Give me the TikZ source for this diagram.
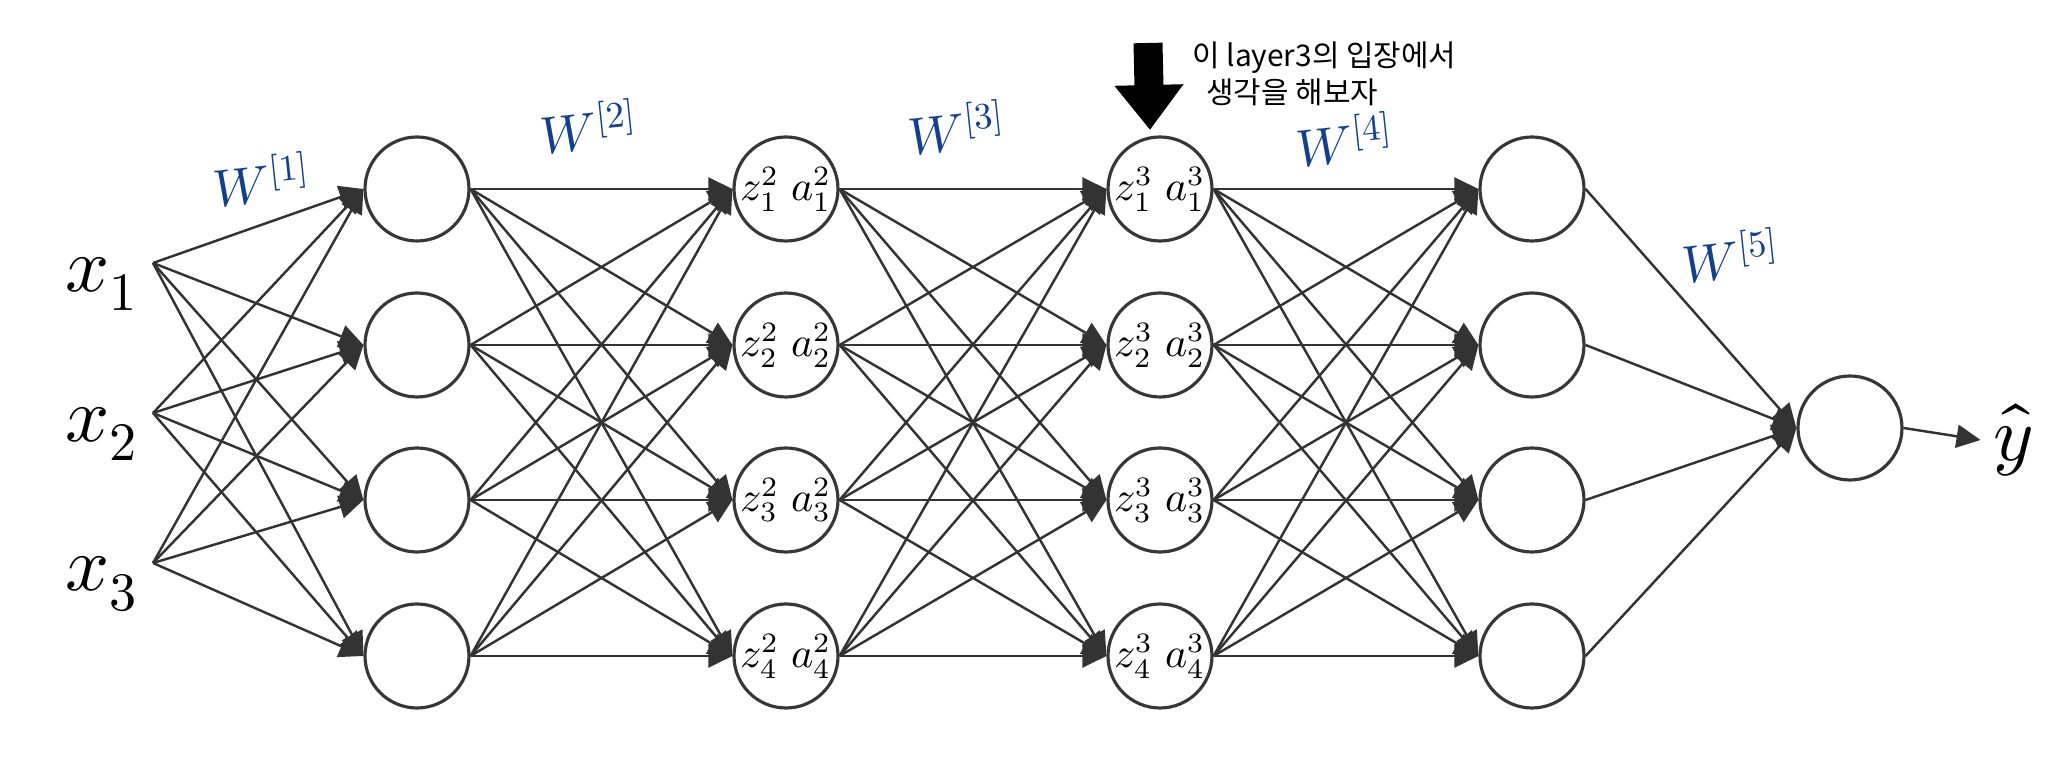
\documentclass[tikz,border=0pt]{standalone}
\usepackage{fontspec}
\usepackage{unicode-math}
\newfontfamily\kofont{Noto Sans CJK KR}
\usetikzlibrary{arrows.meta}
\definecolor{stiftblau}{RGB}{18,64,140}
\definecolor{kreisgrau}{RGB}{55,55,55}

\begin{document}
\begin{tikzpicture}
		\tikzstyle{every node} = [font = \small]
		\tikzstyle{neuron} = [circle, draw = kreisgrau, fill = white, line width = 0.9pt, minimum size = 1.04cm, inner sep = 0pt, font = \fontsize{12}{12}\selectfont]
		\tikzstyle{kante} = [draw = black!80, line width = 0.7pt, -{Triangle[length = 0.24cm, width = 0.23cm]}]
		\tikzstyle{gewicht} = [text = stiftblau, rotate = 6, font = \fontsize{15}{15}\selectfont]
		\tikzstyle{gross} = [font = \fontsize{22}{22}\selectfont]

\useasboundingbox (0,0) rectangle (20.48,7.62);

% Eingabe
\coordinate (in-1) at (1.53,4.99);
\coordinate (in-2) at (1.53,3.49);
\coordinate (in-3) at (1.53,1.99);
\node[gross] (x-1) at (1.02,4.78) {$x_1$};
\node[gross] (x-2) at (1.02,3.28) {$x_2$};
\node[gross] (x-3) at (1.02,1.78) {$x_3$};

% Schichten
\foreach \i/\y in {1/5.73, 2/4.17, 3/2.62, 4/1.06} {
	\node[neuron] (h1-\i) at (4.17,\y) {};
	\node[neuron] (h2-\i) at (7.86,\y) {$z^{2}_{\i}\;a^{2}_{\i}$};
	\node[neuron] (h3-\i) at (11.60,\y) {$z^{3}_{\i}\;a^{3}_{\i}$};
	\node[neuron] (h4-\i) at (15.32,\y) {};
}
\node[neuron] (out) at (18.50,3.34) {};
\node[gross] (yhat) at (20.13,3.22) {$\hat{y}$};

% Kanten
\foreach \i in {1,2,3}
	\foreach \j in {1,...,4}
		\draw[kante] (in-\i) -- (h1-\j.west);
\foreach \a/\b in {h1/h2, h2/h3, h3/h4}
	\foreach \i in {1,...,4}
		\foreach \j in {1,...,4}
			\draw[kante] (\a-\i.east) -- (\b-\j.west);
\foreach \i in {1,...,4}
	\draw[kante] (h4-\i.east) -- (out.west);
\draw[kante] (out.east) -- (yhat.west);

% Gewichte
\node[gewicht] (w-1) at (2.62,5.82) {$W^{[1]}$};
\node[gewicht] (w-2) at (5.89,6.35) {$W^{[2]}$};
\node[gewicht] (w-3) at (9.57,6.34) {$W^{[3]}$};
\node[gewicht] (w-4) at (13.45,6.22) {$W^{[4]}$};
\node[gewicht] (w-5) at (17.31,5.06) {$W^{[5]}$};

% Pfeil
\coordinate (pfeil) at (11.48,7.19);
\coordinate (pfeil-spitze) at (11.50,6.32);
\draw[line width = 0.29cm, -{Triangle[length = 0.45cm, width = 0.66cm]}] (pfeil) -- (pfeil-spitze);

% Notiz
\node[anchor = west, font = \kofont\fontsize{8.5}{9}\selectfont] (notiz-1) at (11.80,7.04) {이 layer3의 입장에서};
\node[anchor = west, font = \kofont\fontsize{8.5}{9}\selectfont] (notiz-2) at (11.94,6.70) {생각을 해보자};

	\end{tikzpicture}
\end{document}
